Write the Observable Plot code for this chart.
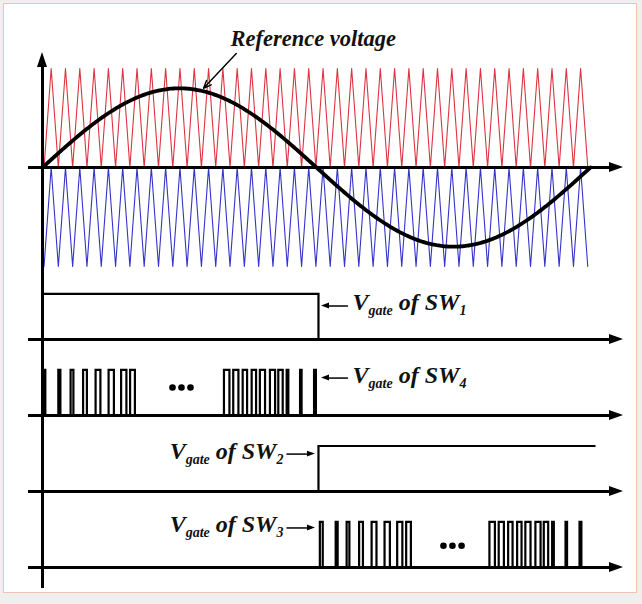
<!DOCTYPE html>
<html><head><meta charset="utf-8">
<script src="https://cdn.jsdelivr.net/npm/d3@7"></script>
<script src="https://cdn.jsdelivr.net/npm/@observablehq/plot@0.6"></script>
<style>
html,body{margin:0;padding:0;background:#f1efee;}
#frame{position:absolute;left:3px;top:3px;width:632px;height:588px;border:1.5px solid #f0c3b3;background:#fff;}
#chart{position:absolute;left:0;top:0;}
</style></head><body><div id="frame"></div><div id="chart"></div>
<script>
// ---------------- data (time axis in electrical degrees) ----------------
const refAmplitude = 0.8;            // reference sine amplitude (carrier = 1)
const refSpan = [0, 360];            // one period of the reference
const carrierStart = 1;              // first carrier valley (deg)
const carrierPeriod = 9.4;           // carrier period (deg)
const carrierCycles = 38;            // number of carrier periods drawn
const sw1On = [0, 181.3];            // SW1 gate high interval
const sw2On = [181.3, 363.3];        // SW2 gate high interval
const sw4Pulses = [[1.45,1.85],[10.4,11.75],[18.46,20.3],[26.67,29.17],[34.88,38.04],[43.42,46.91],[51.64,55.12],[57.55,60.7],
  [119.2,122.8],[125.3,128.7],[131.5,134.4],[137.4,140.3],[142.8,146.2],[149.4,152.8],[154.9,157.8],[160.4,161.5],[169.2,170.2],[178.4,179.6]];
const sw3Pulses = [[182.2,184.1],[192.6,193.9],[199.8,201.6],[208.0,210.5],[216.2,219.4],[224.7,228.2],[233.0,236.4],[238.9,242.0],
  [293.6,297.2],[299.7,303.1],[305.9,308.8],[311.8,314.7],[317.2,320.6],[323.8,327.2],[329.3,332.2],[334.8,335.9],[343.6,344.6],[352.8,354.0]];
const sw4Dots = [85.4, 91.3, 97.2];
const sw3Dots = [263.4, 269.3, 275.3];
const titleText = "Reference voltage";
const gateLabels = ["V_{gate} of SW_{1}", "V_{gate} of SW_{4}", "V_{gate} of SW_{2}", "V_{gate} of SW_{3}"];

// ---------------- layout (positions in scale units) ----------------
const L = {
  base: {SW1: -1.737, SW4: -2.505, SW2: -3.273, SW3: -4.04},
  pulseH: 0.46,
  axisX1: -9.2, axisArrowBase: 372.5, axisArrowTip: 381.7, arrowHalfH: 0.05,
  vAxisBottom: -4.253, vArrowBase: 1.01, vArrowTip: 1.162, vArrowHalfW: 3.3,
  headLen: 5.26, headHalf: 0.03,
  dotRel: {SW4: 0.283, SW3: 0.22}
};
const labelLayout = [
  {panel: "SW1", x: 203.7, anchor: "start", rel: 0.293, tail: 201.0, tip: 183.3},
  {panel: "SW4", x: 203.7, anchor: "start", rel: 0.333, tail: 201.0, tip: 183.3},
  {panel: "SW2", x: 158.3, anchor: "end",   rel: 0.333, tail: 160.6, tip: 179.3},
  {panel: "SW3", x: 158.3, anchor: "end",   rel: 0.354, tail: 160.6, tip: 179.3}
];

// ---------------- build mark tables ----------------
const red = [], blue = [];
for (let k = 0; k <= carrierCycles; k++) {
  const xv = carrierStart + k * carrierPeriod;
  red.push({x: xv, y: 0}); blue.push({x: xv, y: -1});
  if (k < carrierCycles) {
    red.push({x: xv + carrierPeriod / 2, y: 1}); blue.push({x: xv + carrierPeriod / 2, y: 0});
  }
}
const sine = d3.range(refSpan[0], refSpan[1] + 0.5, 1).map(d => ({x: d, y: refAmplitude * Math.sin(d * Math.PI / 180)}));

const pulsePts = [];
function addPulses(list, panel) {
  const B = L.base[panel], H = L.pulseH;
  list.forEach(([a, b], i) => {
    const z = panel + i;
    pulsePts.push({x: a, y: B, z}, {x: a, y: B + H, z}, {x: b, y: B + H, z}, {x: b, y: B, z});
  });
}
addPulses(sw4Pulses, "SW4");
addPulses(sw3Pulses, "SW3");
pulsePts.push({x: sw1On[0], y: L.base.SW1 + L.pulseH, z: "s1"}, {x: sw1On[1], y: L.base.SW1 + L.pulseH, z: "s1"}, {x: sw1On[1], y: L.base.SW1, z: "s1"});
pulsePts.push({x: sw2On[0], y: L.base.SW2, z: "s2"}, {x: sw2On[0], y: L.base.SW2 + L.pulseH, z: "s2"}, {x: sw2On[1], y: L.base.SW2 + L.pulseH, z: "s2"});

const axisYs = [0, L.base.SW1, L.base.SW4, L.base.SW2, L.base.SW3];
const heads = [];
axisYs.forEach((yb, i) => {
  heads.push({x: L.axisArrowBase, y1: yb - L.arrowHalfH, y2: yb + L.arrowHalfH, z: "a" + i});
  heads.push({x: L.axisArrowTip, y1: yb, y2: yb, z: "a" + i});
});
const shafts = [];
const labelRows = [];
labelLayout.forEach((l, i) => {
  const yT = L.base[l.panel] + l.rel;
  const yA = yT + 0.045;
  const dir = Math.sign(l.tip - l.tail);
  const hb = l.tip - dir * L.headLen;
  shafts.push({x1: l.tail, x2: hb, y: yA});
  heads.push({x: hb, y1: yA - L.headHalf, y2: yA + L.headHalf, z: "l" + i});
  heads.push({x: l.tip, y1: yA, y2: yA, z: "l" + i});
  labelRows.push({x: l.x, y: yT, text: gateLabels[i], anchor: l.anchor});
});
const dots = [
  ...sw4Dots.map(x => ({x, y: L.base.SW4 + L.dotRel.SW4})),
  ...sw3Dots.map(x => ({x, y: L.base.SW3 + L.dotRel.SW3}))
];

const font = {fontFamily: "'Liberation Serif', 'Times New Roman', serif", fontStyle: "italic", fontWeight: "bold", fill: "#111"};

const chart = Plot.plot({
  width: 642, height: 604, margin: 0,
  style: {background: "transparent", overflow: "visible"},
  x: {domain: [0, 360], range: [42, 590], axis: null},
  y: {domain: [-1, 1], range: [266, 68], axis: null},
  marks: [
    Plot.line(red, {x: "x", y: "y", stroke: "#dc3440", strokeWidth: 1.1}),
    Plot.line(blue, {x: "x", y: "y", stroke: "#3434c8", strokeWidth: 1.1}),
    Plot.ruleY(axisYs, {x1: L.axisX1, x2: L.axisArrowBase + 0.5, stroke: "#000", strokeWidth: 3}),
    Plot.ruleX([0], {y1: L.vAxisBottom, y2: L.vArrowBase, stroke: "#000", strokeWidth: 3}),
    Plot.areaX([{y: L.vArrowBase, x1: -L.vArrowHalfW, x2: L.vArrowHalfW}, {y: L.vArrowTip, x1: 0, x2: 0}], {y: "y", x1: "x1", x2: "x2", fill: "#000"}),
    Plot.areaY(heads, {x: "x", y1: "y1", y2: "y2", z: "z", fill: "#000"}),
    Plot.line(sine, {x: "x", y: "y", stroke: "#000", strokeWidth: 3.8}),
    Plot.line(pulsePts, {x: "x", y: "y", z: "z", stroke: "#000", strokeWidth: 2.2, strokeLinejoin: "miter", strokeLinecap: "butt", strokeMiterlimit: 4}),
    Plot.ruleY(shafts, {x1: "x1", x2: "x2", y: "y", stroke: "#000", strokeWidth: 1.5}),
    Plot.dot(dots, {x: "x", y: "y", r: 3.3, fill: "#000"}),
    Plot.arrow([{x1: 127.3, y1: 1.152, x2: 105.8, y2: 0.80}], {x1: "x1", y1: "y1", x2: "x2", y2: "y2", stroke: "#000", strokeWidth: 1.4, headLength: 9, headAngle: 45}),
    Plot.text([{x: 123.5, y: 1.232}], {x: "x", y: "y", text: () => titleText, textAnchor: "start", lineAnchor: "bottom", fontSize: 22.5, ...font}),
    Plot.text(labelRows.filter(d => d.anchor === "start"), {x: "x", y: "y", text: "text", textAnchor: "start", lineAnchor: "bottom", fontSize: 24, ...font}),
    Plot.text(labelRows.filter(d => d.anchor === "end"), {x: "x", y: "y", text: "text", textAnchor: "end", lineAnchor: "bottom", fontSize: 24, ...font})
  ]
});

// turn "_{...}" into real subscript tspans
chart.querySelectorAll("text").forEach(t => {
  const s = t.textContent;
  if (!s.includes("_{")) return;
  t.textContent = "";
  const NS = "http://www.w3.org/2000/svg";
  const re = /_\{([^}]*)\}/g;
  let last = 0, m, low = false;
  const add = (str, sub) => {
    const ts = document.createElementNS(NS, "tspan");
    ts.textContent = str;
    if (sub) { ts.setAttribute("font-size", "14"); if (!low) { ts.setAttribute("dy", "5"); low = true; } }
    else if (low) { ts.setAttribute("dy", "-5"); low = false; }
    t.appendChild(ts);
  };
  while ((m = re.exec(s))) {
    if (m.index > last) add(s.slice(last, m.index), false);
    add(m[1], true);
    last = re.lastIndex;
  }
  if (last < s.length) add(s.slice(last), false);
});

document.getElementById("chart").appendChild(chart);
</script></body></html>
